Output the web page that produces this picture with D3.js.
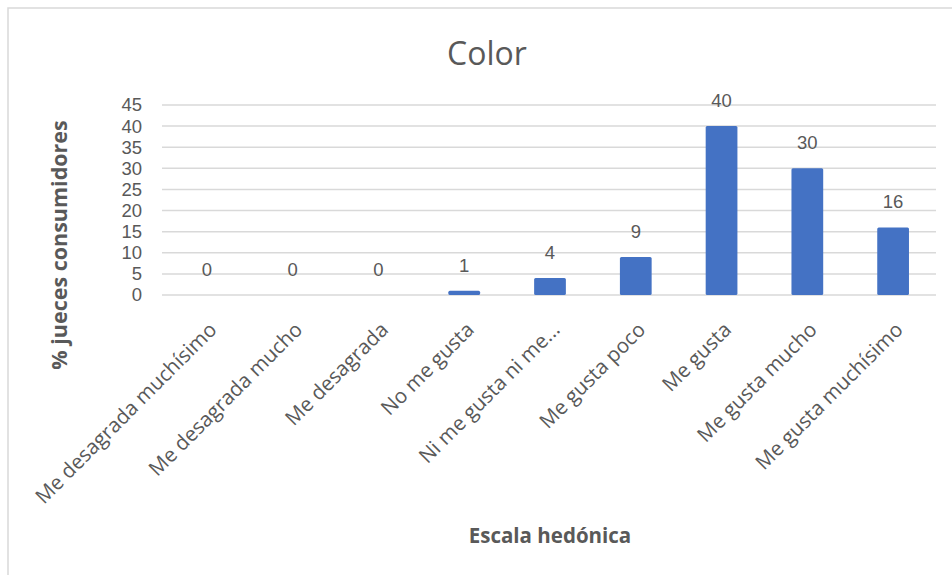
<!DOCTYPE html>
<html>
<head>
<meta charset="utf-8">
<script src="https://cdn.jsdelivr.net/npm/d3@7"></script>
<style>
  html, body { margin: 0; padding: 0; background: #fff; }
  svg { display: block; }
</style>
</head>
<body>
<svg id="chart" width="952" height="575"></svg>
<script>
// Escala hedónica: % de jueces consumidores por categoría (atributo Color)
const categories = [
  "Me desagrada muchísimo",
  "Me desagrada mucho",
  "Me desagrada",
  "No me gusta",
  "Ni me gusta ni me...",
  "Me gusta poco",
  "Me gusta",
  "Me gusta mucho",
  "Me gusta muchísimo"
];
const values = [0, 0, 0, 1, 4, 9, 40, 30, 16];
const yTicks = [0, 5, 10, 15, 20, 25, 30, 35, 40, 45];

const chartTitle = "Color";
const xTitle = "Escala  hedónica";
const yTitle = "% jueces consumidores";

const textColor = "#595959";
const gridColor = "#d9d9d9";
const barColor = "#4472c4";
const font = "'Open Sans', 'DejaVu Sans', sans-serif";
const tickFont = "'Liberation Sans', Arial, sans-serif";

const svg = d3.select("#chart");

// chart area frame
svg.append("rect")
  .attr("x", 8).attr("y", 8)
  .attr("width", 960).attr("height", 600)
  .attr("fill", "#fff")
  .attr("stroke", gridColor)
  .attr("stroke-width", 1.5);

const plot = { left: 164, right: 936, top: 105, bottom: 295 };

const x = d3.scaleBand()
  .domain(categories)
  .range([plot.left, plot.right])
  .paddingInner(0.63)
  .paddingOuter(0.315);

const y = d3.scaleLinear()
  .domain([0, 45])
  .range([plot.bottom, plot.top]);

// horizontal gridlines
svg.append("g")
  .selectAll("line")
  .data(yTicks)
  .join("line")
  .attr("x1", plot.left - 2)
  .attr("x2", plot.right)
  .attr("y1", d => y(d))
  .attr("y2", d => y(d))
  .attr("stroke", gridColor)
  .attr("stroke-width", 1.5);

// y axis labels
const yAxis = d3.axisLeft(y).tickValues(yTicks).tickSize(0).tickPadding(0);
svg.append("g")
  .attr("transform", `translate(${plot.left - 22},0)`)
  .call(yAxis)
  .call(g => g.select(".domain").remove())
  .call(g => g.selectAll("text")
    .attr("fill", textColor)
    .style("font-family", tickFont)
    .style("font-size", "18.5px"));

// bars
svg.append("g")
  .selectAll("rect")
  .data(values)
  .join("rect")
  .attr("x", (d, i) => x(categories[i]))
  .attr("y", d => y(d))
  .attr("width", x.bandwidth())
  .attr("height", d => y(0) - y(d))
  .attr("rx", 1.5)
  .attr("fill", barColor);

// value labels
svg.append("g")
  .selectAll("text")
  .data(values)
  .join("text")
  .attr("x", (d, i) => x(categories[i]) + x.bandwidth() / 2)
  .attr("y", d => y(d) - 19)
  .attr("text-anchor", "middle")
  .attr("fill", textColor)
  .style("font-family", tickFont)
  .style("font-size", "18.5px")
  .text(d => d3.format("d")(d));

// category labels rotated -45°
const xAxis = d3.axisBottom(x).tickSize(0).tickPadding(0);
svg.append("g")
  .attr("transform", `translate(0,${plot.bottom})`)
  .call(xAxis)
  .call(g => g.select(".domain").remove())
  .call(g => g.selectAll("text")
    .attr("fill", textColor)
    .style("font-family", font)
    .style("font-size", "20.5px")
    .attr("text-anchor", "end")
    .attr("dy", null)
    .attr("y", 0)
    .attr("transform", "translate(11,36) rotate(-45)"));

// chart title
svg.append("text")
  .attr("x", 487)
  .attr("y", 65)
  .attr("text-anchor", "middle")
  .attr("fill", textColor)
  .style("font-family", font)
  .style("font-size", "32px")
  .text(chartTitle);

// x axis title
svg.append("text")
  .attr("x", 550)
  .attr("y", 543)
  .attr("text-anchor", "middle")
  .attr("fill", textColor)
  .style("font-family", font)
  .style("font-weight", "bold")
  .style("font-size", "20.5px")
  .text(xTitle);

// y axis title
svg.append("text")
  .attr("transform", "translate(67,245) rotate(-90)")
  .attr("text-anchor", "middle")
  .attr("fill", textColor)
  .style("font-family", font)
  .style("font-weight", "bold")
  .style("font-size", "21.5px")
  .text(yTitle);
</script>
</body>
</html>
